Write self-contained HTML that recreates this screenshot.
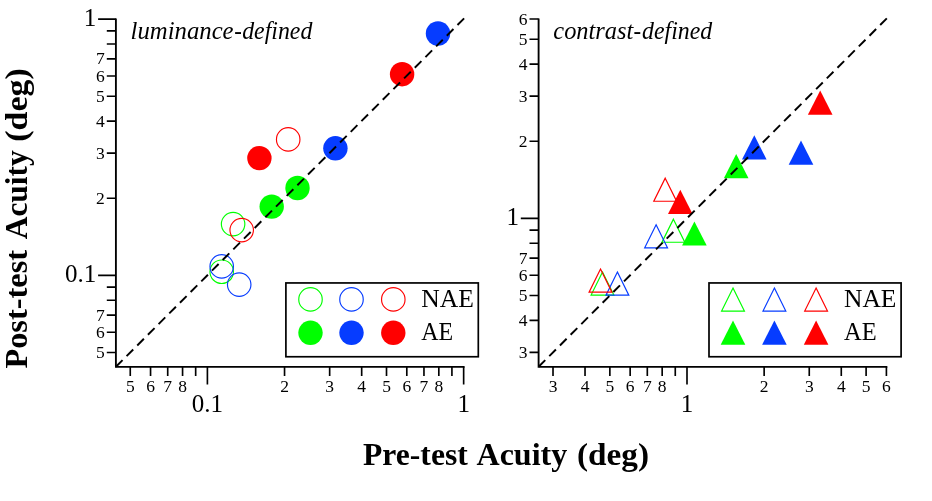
<!DOCTYPE html>
<html><head><meta charset="utf-8"><title>Acuity</title>
<style>
html,body{margin:0;padding:0;background:#fff;}
body{width:932px;height:501px;overflow:hidden;}
svg{display:block;will-change:transform;}
text{font-family:"Liberation Serif","DejaVu Serif",serif;fill:#000;}
.mn{font-size:17.5px;}
.mj{font-size:25px;}
.lg{font-size:25px;}
.it{font-size:25px;font-style:italic;}
.ax{font-size:32px;font-weight:bold;}
</style></head><body>
<svg width="932" height="501" viewBox="0 0 932 501">
<rect width="932" height="501" fill="#fff"/>

<g stroke="#000" fill="none" stroke-linecap="butt">
<path d="M115.9 18.57V366.8H464.57" stroke-width="1.85" stroke-linejoin="miter"/>
<path d="M115.9 275.40h-17.8M115.9 19.15h-17.8M115.9 352.54h-9.1M115.9 332.25h-9.1M115.9 315.09h-9.1M115.9 198.26h-9.1M115.9 153.14h-9.1M115.9 121.12h-9.1M115.9 96.29h-9.1M115.9 76.00h-9.1M115.9 58.84h-9.1M115.9 300.23h-9.1M115.9 287.13h-9.1M115.9 43.98h-9.1M115.9 30.88h-9.1M207.40 366.8v17.8M463.65 366.8v17.8M130.26 366.8v9.1M150.55 366.8v9.1M167.71 366.8v9.1M182.57 366.8v9.1M284.54 366.8v9.1M329.66 366.8v9.1M361.68 366.8v9.1M386.51 366.8v9.1M406.80 366.8v9.1M423.96 366.8v9.1M438.82 366.8v9.1M195.67 366.8v9.1M451.92 366.8v9.1" stroke-width="1.65"/>
</g>
<text class="mn" x="104.8" y="358.14" text-anchor="end">5</text>
<text class="mn" x="104.8" y="337.85" text-anchor="end">6</text>
<text class="mn" x="104.8" y="320.69" text-anchor="end">7</text>
<text class="mn" x="104.8" y="203.86" text-anchor="end">2</text>
<text class="mn" x="104.8" y="158.74" text-anchor="end">3</text>
<text class="mn" x="104.8" y="126.72" text-anchor="end">4</text>
<text class="mn" x="104.8" y="101.89" text-anchor="end">5</text>
<text class="mn" x="104.8" y="81.60" text-anchor="end">6</text>
<text class="mn" x="104.8" y="64.44" text-anchor="end">7</text>
<text class="mj" x="96.2" y="282.10" text-anchor="end">0.1</text>
<text class="mj" x="96.2" y="26.25" text-anchor="end">1</text>
<text class="mn" x="130.26" y="391.5" text-anchor="middle">5</text>
<text class="mn" x="150.55" y="391.5" text-anchor="middle">6</text>
<text class="mn" x="167.71" y="391.5" text-anchor="middle">7</text>
<text class="mn" x="182.57" y="391.5" text-anchor="middle">8</text>
<text class="mn" x="284.54" y="391.5" text-anchor="middle">2</text>
<text class="mn" x="329.66" y="391.5" text-anchor="middle">3</text>
<text class="mn" x="361.68" y="391.5" text-anchor="middle">4</text>
<text class="mn" x="386.51" y="391.5" text-anchor="middle">5</text>
<text class="mn" x="406.80" y="391.5" text-anchor="middle">6</text>
<text class="mn" x="423.96" y="391.5" text-anchor="middle">7</text>
<text class="mn" x="438.82" y="391.5" text-anchor="middle">8</text>
<text class="mj" x="207.40" y="411.7" text-anchor="middle">0.1</text>
<text class="mj" x="463.65" y="411.7" text-anchor="middle">1</text>
<circle cx="233.1" cy="224.1" r="11.75" fill="none" stroke="#00ff00" stroke-width="1.15"/>
<circle cx="221.7" cy="271.7" r="11.75" fill="none" stroke="#00ff00" stroke-width="1.15"/>
<circle cx="271.7" cy="206.6" r="12.2" fill="#00ff00"/>
<circle cx="297.5" cy="188.0" r="12.2" fill="#00ff00"/>
<circle cx="221.7" cy="266.4" r="11.75" fill="none" stroke="#063cff" stroke-width="1.15"/>
<circle cx="239.2" cy="284.6" r="11.75" fill="none" stroke="#063cff" stroke-width="1.15"/>
<circle cx="335.4" cy="148.3" r="12.2" fill="#063cff"/>
<circle cx="438.0" cy="33.5" r="12.2" fill="#063cff"/>
<circle cx="241.7" cy="230.1" r="11.75" fill="none" stroke="#ff0000" stroke-width="1.15"/>
<circle cx="288.2" cy="139.4" r="11.75" fill="none" stroke="#ff0000" stroke-width="1.15"/>
<circle cx="259.4" cy="158.1" r="12.2" fill="#ff0000"/>
<circle cx="402.1" cy="74.2" r="12.2" fill="#ff0000"/>
<path d="M115.9 366.8L464.3 18.2" stroke="#000" stroke-width="1.95" stroke-dasharray="9.4 5.7" fill="none"/>
<rect x="285.9" y="282.95" width="192.4" height="73.8" fill="#fff" stroke="#000" stroke-width="1.7"/>
<circle cx="310.5" cy="299.4" r="11.75" fill="none" stroke="#00ff00" stroke-width="1.15"/>
<circle cx="310.5" cy="332.8" r="12.2" fill="#00ff00"/>
<circle cx="351.5" cy="299.4" r="11.75" fill="none" stroke="#063cff" stroke-width="1.15"/>
<circle cx="351.5" cy="332.8" r="12.2" fill="#063cff"/>
<circle cx="393.3" cy="299.4" r="11.75" fill="none" stroke="#ff0000" stroke-width="1.15"/>
<circle cx="393.3" cy="332.8" r="12.2" fill="#ff0000"/>
<text class="lg" x="421.2" y="307.1" textLength="52.6" lengthAdjust="spacingAndGlyphs">NAE</text>
<text class="lg" x="421.2" y="340.1" textLength="31.9" lengthAdjust="spacingAndGlyphs">AE</text>
<text class="it" y="39.2"><tspan x="130.6" textLength="103" lengthAdjust="spacingAndGlyphs">luminance</tspan><tspan x="234.3" textLength="7.6" lengthAdjust="spacingAndGlyphs">-</tspan><tspan x="242.2" textLength="70.2" lengthAdjust="spacingAndGlyphs">defined</tspan></text>
<g stroke="#000" fill="none" stroke-linecap="butt">
<path d="M538.6 18.57V366.8H887.33" stroke-width="1.85" stroke-linejoin="miter"/>
<path d="M538.6 218.40h-17.8M538.6 352.39h-9.1M538.6 320.37h-9.1M538.6 295.54h-9.1M538.6 275.25h-9.1M538.6 258.09h-9.1M538.6 141.26h-9.1M538.6 96.14h-9.1M538.6 64.12h-9.1M538.6 39.29h-9.1M538.6 19.00h-9.1M538.6 243.23h-9.1M538.6 230.13h-9.1M687.00 366.8v17.8M553.01 366.8v9.1M585.03 366.8v9.1M609.86 366.8v9.1M630.15 366.8v9.1M647.31 366.8v9.1M662.17 366.8v9.1M764.14 366.8v9.1M809.26 366.8v9.1M841.28 366.8v9.1M866.11 366.8v9.1M886.40 366.8v9.1M675.27 366.8v9.1" stroke-width="1.65"/>
</g>
<text class="mn" x="527.6" y="357.99" text-anchor="end">3</text>
<text class="mn" x="527.6" y="325.97" text-anchor="end">4</text>
<text class="mn" x="527.6" y="301.14" text-anchor="end">5</text>
<text class="mn" x="527.6" y="280.85" text-anchor="end">6</text>
<text class="mn" x="527.6" y="263.69" text-anchor="end">7</text>
<text class="mn" x="527.6" y="146.86" text-anchor="end">2</text>
<text class="mn" x="527.6" y="101.74" text-anchor="end">3</text>
<text class="mn" x="527.6" y="69.72" text-anchor="end">4</text>
<text class="mn" x="527.6" y="44.89" text-anchor="end">5</text>
<text class="mn" x="527.6" y="24.60" text-anchor="end">6</text>
<text class="mj" x="519.0" y="225.10" text-anchor="end">1</text>
<text class="mn" x="553.01" y="391.5" text-anchor="middle">3</text>
<text class="mn" x="585.03" y="391.5" text-anchor="middle">4</text>
<text class="mn" x="609.86" y="391.5" text-anchor="middle">5</text>
<text class="mn" x="630.15" y="391.5" text-anchor="middle">6</text>
<text class="mn" x="647.31" y="391.5" text-anchor="middle">7</text>
<text class="mn" x="662.17" y="391.5" text-anchor="middle">8</text>
<text class="mn" x="764.14" y="391.5" text-anchor="middle">2</text>
<text class="mn" x="809.26" y="391.5" text-anchor="middle">3</text>
<text class="mn" x="841.28" y="391.5" text-anchor="middle">4</text>
<text class="mn" x="866.11" y="391.5" text-anchor="middle">5</text>
<text class="mn" x="886.40" y="391.5" text-anchor="middle">6</text>
<text class="mj" x="687.00" y="411.7" text-anchor="middle">1</text>
<path d="M673.4 219.20L684.80 242.25H662.00Z" fill="none" stroke="#00ff00" stroke-width="1.2" stroke-linejoin="miter"/>
<path d="M602.5 272.00L613.90 295.05H591.10Z" fill="none" stroke="#00ff00" stroke-width="1.2" stroke-linejoin="miter"/>
<path d="M656.1 224.80L667.50 247.85H644.70Z" fill="none" stroke="#063cff" stroke-width="1.2" stroke-linejoin="miter"/>
<path d="M617.4 272.10L628.80 295.15H606.00Z" fill="none" stroke="#063cff" stroke-width="1.2" stroke-linejoin="miter"/>
<path d="M754.3 135.3L766.5999999999999 159.5H742.0Z" fill="#063cff"/>
<path d="M801.0 140.5L813.3 164.7H788.7Z" fill="#063cff"/>
<path d="M694.4 221.4L706.6999999999999 245.6H682.1Z" fill="#00ff00"/>
<path d="M736.2 154.0L748.5 178.2H723.9000000000001Z" fill="#00ff00"/>
<path d="M665.2 178.20L676.60 201.25H653.80Z" fill="none" stroke="#ff0000" stroke-width="1.2" stroke-linejoin="miter"/>
<path d="M600.5 269.10L611.90 292.15H589.10Z" fill="none" stroke="#ff0000" stroke-width="1.2" stroke-linejoin="miter"/>
<path d="M680.3 189.8L692.5999999999999 214.0H668.0Z" fill="#ff0000"/>
<path d="M820.2 90.60000000000001L832.5 114.8H807.9000000000001Z" fill="#ff0000"/>
<path d="M538.6 366.8L887.0 18.2" stroke="#000" stroke-width="1.95" stroke-dasharray="9.4 5.7" fill="none"/>
<rect x="709.0" y="282.95" width="192.1" height="73.8" fill="#fff" stroke="#000" stroke-width="1.7"/>
<path d="M733.0 288.00L744.40 311.05H721.60Z" fill="none" stroke="#00ff00" stroke-width="1.2" stroke-linejoin="miter"/>
<path d="M733.0 320.5L745.3 344.70000000000005H720.7Z" fill="#00ff00"/>
<path d="M774.4 288.00L785.80 311.05H763.00Z" fill="none" stroke="#063cff" stroke-width="1.2" stroke-linejoin="miter"/>
<path d="M774.4 320.5L786.6999999999999 344.70000000000005H762.1Z" fill="#063cff"/>
<path d="M816.1 288.00L827.50 311.05H804.70Z" fill="none" stroke="#ff0000" stroke-width="1.2" stroke-linejoin="miter"/>
<path d="M816.1 320.5L828.4 344.70000000000005H803.8000000000001Z" fill="#ff0000"/>
<text class="lg" x="844.0" y="307.1" textLength="52.4" lengthAdjust="spacingAndGlyphs">NAE</text>
<text class="lg" x="844.0" y="340.1" textLength="32.6" lengthAdjust="spacingAndGlyphs">AE</text>
<text class="it" y="39.2"><tspan x="553.3" textLength="80" lengthAdjust="spacingAndGlyphs">contrast</tspan><tspan x="633.6" textLength="7.6" lengthAdjust="spacingAndGlyphs">-</tspan><tspan x="642.0" textLength="70.2" lengthAdjust="spacingAndGlyphs">defined</tspan></text>
<text class="ax" y="465.0"><tspan x="363.0" textLength="104.8" lengthAdjust="spacingAndGlyphs">Pre-test</tspan> <tspan x="476.5" textLength="90.8" lengthAdjust="spacingAndGlyphs">Acuity</tspan> <tspan x="577.0" textLength="72" lengthAdjust="spacingAndGlyphs">(deg)</tspan></text>
<text class="ax" transform="translate(27 368.6) rotate(-90)" y="0"><tspan x="0" textLength="118.6" lengthAdjust="spacingAndGlyphs">Post-test</tspan> <tspan x="129.3" textLength="89" lengthAdjust="spacingAndGlyphs">Acuity</tspan> <tspan x="226.9" textLength="73.4" lengthAdjust="spacingAndGlyphs">(deg)</tspan></text>
</svg></body></html>
